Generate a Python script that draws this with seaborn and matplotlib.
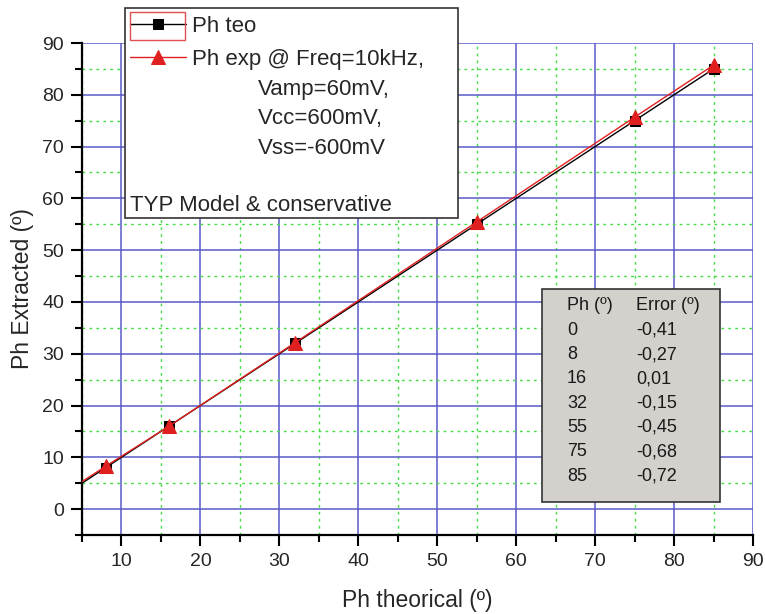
import matplotlib
matplotlib.use("Agg")
import matplotlib.pyplot as plt
import seaborn as sns
import pandas as pd
from matplotlib.patches import Rectangle
from matplotlib.ticker import MultipleLocator

sns.set_style("white")
plt.rcParams['font.family'] = ['Liberation Sans', 'DejaVu Sans']

# data
ph_theo = [0, 8, 16, 32, 55, 75, 85]
ph_teo_vals = [0, 8, 16, 32, 55, 75, 85]
errors = [-0.41, -0.27, 0.01, -0.15, -0.45, -0.68, -0.72]
ph_exp_vals = [t - e for t, e in zip(ph_theo, errors)]

label_teo = "Ph teo"
label_exp = "Ph exp @ Freq=10kHz,"
label_exp_more = ["Vamp=60mV,", "Vcc=600mV,", "Vss=-600mV"]
note = "TYP Model & conservative"
table_header = ["Ph (º)", "Error (º)"]

W, H = 765, 614


def fx(px):
    return px / W


def fy(py):
    return 1 - py / H


df_teo = pd.DataFrame({"x": ph_theo, "y": ph_teo_vals})
df_exp = pd.DataFrame({"x": ph_theo, "y": ph_exp_vals})

fig = plt.figure(figsize=(7.65, 6.14), dpi=100)
ax = fig.add_axes([fx(82), fy(535), fx(753) - fx(82), fy(43) - fy(535)])

sns.lineplot(data=df_exp, x="x", y="y", ax=ax, color="#e02020", lw=1.0,
             marker="^", markersize=10, markeredgecolor="#e02020",
             markerfacecolor="#e02020", label=label_exp, zorder=3)
sns.lineplot(data=df_teo, x="x", y="y", ax=ax, color="black", lw=1.0,
             marker="s", markersize=7, markeredgecolor="black",
             markerfacecolor="black", label=label_teo, zorder=2)

ax.set_xlim(5, 90)
ax.set_ylim(-5, 90)
ax.xaxis.set_major_locator(MultipleLocator(10))
ax.xaxis.set_minor_locator(MultipleLocator(5))
ax.yaxis.set_major_locator(MultipleLocator(10))
ax.yaxis.set_minor_locator(MultipleLocator(5))
ax.grid(which="major", color="#5a5ac8", lw=1.1, ls="-")
ax.grid(which="minor", color="#44dd44", lw=1.0, ls=(0, (2, 3)))
ax.set_axisbelow(True)

for s in ["top", "right"]:
    ax.spines[s].set_visible(False)
for s in ["left", "bottom"]:
    ax.spines[s].set_color("black")
    ax.spines[s].set_linewidth(1.6)

ax.tick_params(which="major", direction="out", length=8, width=1.5,
               labelsize=14, color="black", left=True, bottom=True, pad=5)
ax.tick_params(which="minor", direction="out", length=5, width=1.5,
               color="black", left=True, bottom=True)
ax.set_xticks([10, 20, 30, 40, 50, 60, 70, 80, 90])
ax.set_yticks([0, 10, 20, 30, 40, 50, 60, 70, 80, 90])

ax.set_xlabel("Ph theorical (º)", fontsize=16.5, labelpad=14)
ax.set_ylabel("Ph Extracted (º)", fontsize=16.5, labelpad=6)

# legend box
ax.get_legend().remove()
fig.patches.append(Rectangle((fx(125), fy(218)), fx(458) - fx(125),
                             fy(8) - fy(218), transform=fig.transFigure,
                             facecolor="white", edgecolor="#333333", lw=1.2,
                             zorder=3))
handles, labels = ax.get_legend_handles_labels()
order = [1, 0]
leg = fig.legend([handles[i] for i in order], [labels[i] for i in order],
                 loc="upper left", bbox_to_anchor=(fx(130), fy(16)),
                 frameon=False, fontsize=16, handlelength=2.5,
                 handletextpad=0.3, labelspacing=0.55, borderaxespad=0,
                 borderpad=0)
leg.set_zorder(4)
# selection rectangle around first legend handle
fig.patches.append(Rectangle((fx(130), fy(40)), fx(185) - fx(130),
                             fy(12) - fy(40), transform=fig.transFigure,
                             facecolor="none", edgecolor="#e05050", lw=1.0,
                             zorder=6))
for i, line in enumerate(label_exp_more):
    fig.text(fx(258), fy(89 + i * 29.5), line, fontsize=16, va="center",
             zorder=5)
fig.text(fx(130), fy(206), note, fontsize=16, va="center", zorder=5)

# error table
fig.patches.append(Rectangle((fx(542), fy(502)), fx(720) - fx(542),
                             fy(289) - fy(502), transform=fig.transFigure,
                             facecolor="#d4d0cc", edgecolor="#333333", lw=1.2,
                             zorder=3))
row_h = 24.3
y0 = 306
fig.text(fx(567), fy(y0), table_header[0], fontsize=13, va="center",
         color="#1a1a1a", zorder=5)
fig.text(fx(636), fy(y0), table_header[1], fontsize=13, va="center",
         color="#1a1a1a", zorder=5)
for i, (p, e) in enumerate(zip(ph_theo, errors)):
    y = y0 + (i + 1) * row_h
    fig.text(fx(567), fy(y), f"{p}", fontsize=13, va="center",
             color="#1a1a1a", zorder=5)
    fig.text(fx(636), fy(y), f"{e:.2f}".replace(".", ","), fontsize=13,
             va="center", color="#1a1a1a", zorder=5)

fig.savefig("out.png", dpi=100)
